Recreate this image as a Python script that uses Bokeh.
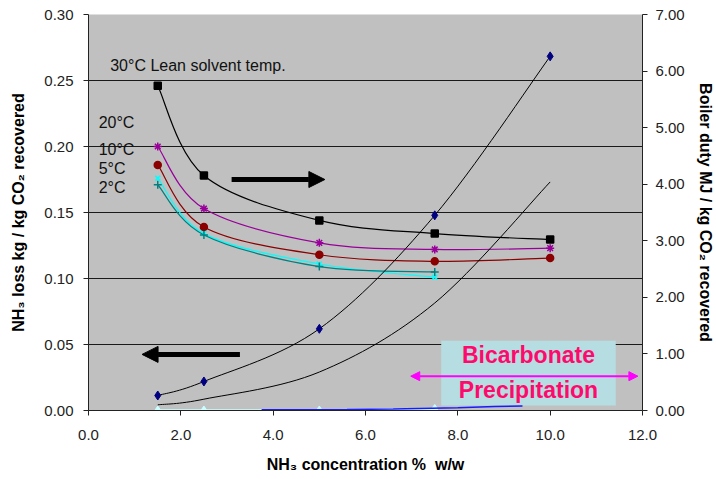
from bokeh.plotting import figure
from bokeh.models import (Range1d, LinearAxis, FixedTicker, PrintfTickFormatter,
                          ColumnDataSource, Label, Arrow, NormalHead, BoxAnnotation)
from bokeh.embed import file_html
from bokeh.resources import INLINE

# ---------------- data ----------------
conc = [1.5, 2.5, 5.0, 7.5, 10.0]
conc_short = [1.5, 2.5, 5.0, 7.5]

loss_30C = [0.246, 0.178, 0.144, 0.134, 0.1295]
loss_20C = [0.200, 0.153, 0.127, 0.122, 0.123]
loss_10C = [0.186, 0.139, 0.118, 0.113, 0.1155]
loss_5C = [0.176, 0.134, 0.111, 0.101]
loss_2C = [0.171, 0.133, 0.109, 0.105]

duty_a = [0.265, 0.513, 1.444, 3.45, 6.26]
duty_b = [0.10, 0.20, 0.68, 1.90, 4.04]

low_cyan = [0.0, 0.0, 0.0, 0.0012]
low_blue_x = [3.75, 5.6, 6.6, 8.0, 8.8, 9.4]
low_blue_y = [0.0005, 0.0008, 0.0012, 0.002, 0.003, 0.0035]

x_ticks = [0, 2, 4, 6, 8, 10, 12]
left_ticks = [0.0, 0.05, 0.10, 0.15, 0.20, 0.25, 0.30]
right_ticks = [0, 1, 2, 3, 4, 5, 6, 7]

temp_labels = ["30°C Lean solvent temp.", "20°C", "10°C", "5°C", "2°C"]

FONT = "Liberation Sans"


def smooth_src(xs, ys):
    n = len(xs)
    d = dict(x0=[], y0=[], x1=[], y1=[], cx0=[], cy0=[], cx1=[], cy1=[])
    for i in range(n - 1):
        xp, yp = (xs[i - 1], ys[i - 1]) if i > 0 else (xs[i], ys[i])
        xn, yn = (xs[i + 2], ys[i + 2]) if i + 2 < n else (xs[i + 1], ys[i + 1])
        d["x0"].append(xs[i]); d["y0"].append(ys[i])
        d["x1"].append(xs[i + 1]); d["y1"].append(ys[i + 1])
        d["cx0"].append(xs[i] + (xs[i + 1] - xp) / 6.0)
        d["cy0"].append(ys[i] + (ys[i + 1] - yp) / 6.0)
        d["cx1"].append(xs[i + 1] - (xn - xs[i]) / 6.0)
        d["cy1"].append(ys[i + 1] - (yn - ys[i]) / 6.0)
    return ColumnDataSource(d)


p = figure(width=716, height=479, output_backend="svg", toolbar_location=None,
           x_range=Range1d(0, 12), y_range=Range1d(0, 0.30),
           min_border_left=88, min_border_right=72, min_border_top=14, min_border_bottom=69)
p.background_fill_color = "#c0c0c0"
p.border_fill_color = "white"
p.outline_line_color = None
p.extra_y_ranges = {"duty": Range1d(0, 7)}

p.xgrid.visible = False
p.ygrid.ticker = FixedTicker(ticks=left_ticks)
p.ygrid.grid_line_color = "#1a1a1a"
p.ygrid.grid_line_width = 1


def style_axis(ax):
    ax.axis_line_color = "#222"
    ax.major_tick_line_color = "#222"
    ax.major_tick_out = 5
    ax.major_tick_in = 0
    ax.minor_tick_line_color = None
    ax.major_label_text_font = FONT
    ax.major_label_text_font_size = "15px"
    ax.major_label_text_color = "#222"
    ax.axis_label_text_font = FONT
    ax.axis_label_text_font_style = "bold"
    ax.axis_label_text_font_size = "16px"
    ax.axis_label_text_color = "black"


xa = p.xaxis[0]
xa.ticker = FixedTicker(ticks=x_ticks)
xa.formatter = PrintfTickFormatter(format="%.1f")
xa.axis_label = "NH₃ concentration %\u00a0\u00a0w/w"
style_axis(xa)
xa.major_label_standoff = 14
xa.axis_label_standoff = 13

ya = p.yaxis[0]
ya.ticker = FixedTicker(ticks=left_ticks)
ya.formatter = PrintfTickFormatter(format="%.2f")
ya.axis_label = "NH₃ loss kg / kg CO₂ recovered"
style_axis(ya)
ya.major_label_standoff = 10
ya.axis_label_standoff = 14

ra = LinearAxis(y_range_name="duty", ticker=FixedTicker(ticks=right_ticks),
                formatter=PrintfTickFormatter(format="%.2f"),
                axis_label="Boiler duty MJ / kg CO₂ recovered")
style_axis(ra)
ra.major_label_standoff = 8
ra.axis_label_standoff = 9
p.add_layout(ra, "right")

# ---- background box for the precipitation label ----
p.add_layout(BoxAnnotation(left=7.64, right=11.42, bottom=0.0038, top=0.0528,
                           fill_color="#b6dde2", fill_alpha=1.0, line_color=None,
                           level="underlay"))

# ---- NH3 loss series (left axis) ----
series = [
    (loss_30C, conc, "black", "square", 7),
    (loss_20C, conc, "#990099", "asterisk", 8),
    (loss_10C, conc, "#8b0000", "circle", 7),
    (loss_5C, conc_short, "#00ffff", "x", 7),
    (loss_2C, conc_short, "#008080", "cross", 8),
]
for ys, xs, col, mk, sz in series:
    p.bezier(x0="x0", y0="y0", x1="x1", y1="y1", cx0="cx0", cy0="cy0", cx1="cx1", cy1="cy1",
             source=smooth_src(xs, ys), line_color=col, line_width=1.2)
    p.scatter(xs, ys, marker=mk, size=sz, line_color=col, fill_color=col, line_width=1.5)

# ---- boiler duty series (right axis) ----
p.bezier(x0="x0", y0="y0", x1="x1", y1="y1", cx0="cx0", cy0="cy0", cx1="cx1", cy1="cy1",
         source=smooth_src(conc, duty_a), line_color="black", line_width=1, y_range_name="duty")
p.scatter(conc, duty_a, marker="diamond", size=9, line_color="#000080", fill_color="#000080",
          y_range_name="duty")
p.bezier(x0="x0", y0="y0", x1="x1", y1="y1", cx0="cx0", cy0="cy0", cx1="cx1", cy1="cy1",
         source=smooth_src(conc, duty_b), line_color="black", line_width=1, y_range_name="duty")

# ---- near-zero series ----
p.line(conc_short, low_cyan, line_color="#ccffff", line_width=2.5)
p.scatter(conc_short, low_cyan, marker="diamond", size=9, line_color="#ccffff", fill_color="#ccffff")
p.line(low_blue_x, low_blue_y, line_color="#1a1aff", line_width=1.5)

# ---- arrows ----
p.add_layout(Arrow(end=NormalHead(size=16, fill_color="black", line_color="black"),
                   x_start=3.1, y_start=0.175, x_end=5.12, y_end=0.175,
                   line_color="black", line_width=5))
p.add_layout(Arrow(end=NormalHead(size=16, fill_color="black", line_color="black"),
                   x_start=3.28, y_start=0.0425, x_end=1.16, y_end=0.0425,
                   line_color="black", line_width=5))
p.add_layout(Arrow(start=NormalHead(size=9, fill_color="#ff00ff", line_color="#ff00ff"),
                   end=NormalHead(size=9, fill_color="#ff00ff", line_color="#ff00ff"),
                   x_start=6.98, y_start=0.026, x_end=11.9, y_end=0.026,
                   line_color="#ff00ff", line_width=2))

# ---- text labels ----
temp_pos = [(0.47, 0.2617), (0.22, 0.2185), (0.22, 0.1976), (0.22, 0.183), (0.22, 0.169)]
for t, (tx, ty) in zip(temp_labels, temp_pos):
    p.add_layout(Label(x=tx, y=ty, text=t, text_font=FONT, text_font_size="16px",
                       text_color="#111", text_baseline="middle", text_align="left"))

for t, ty in [("Bicarbonate", 0.0422), ("Precipitation", 0.0158)]:
    p.add_layout(Label(x=9.53, y=ty, text=t, text_font=FONT, text_font_size="23px",
                       text_font_style="bold", text_color="#ff0a6c",
                       text_baseline="middle", text_align="center"))

open("out.html", "w").write(file_html(p, INLINE))
